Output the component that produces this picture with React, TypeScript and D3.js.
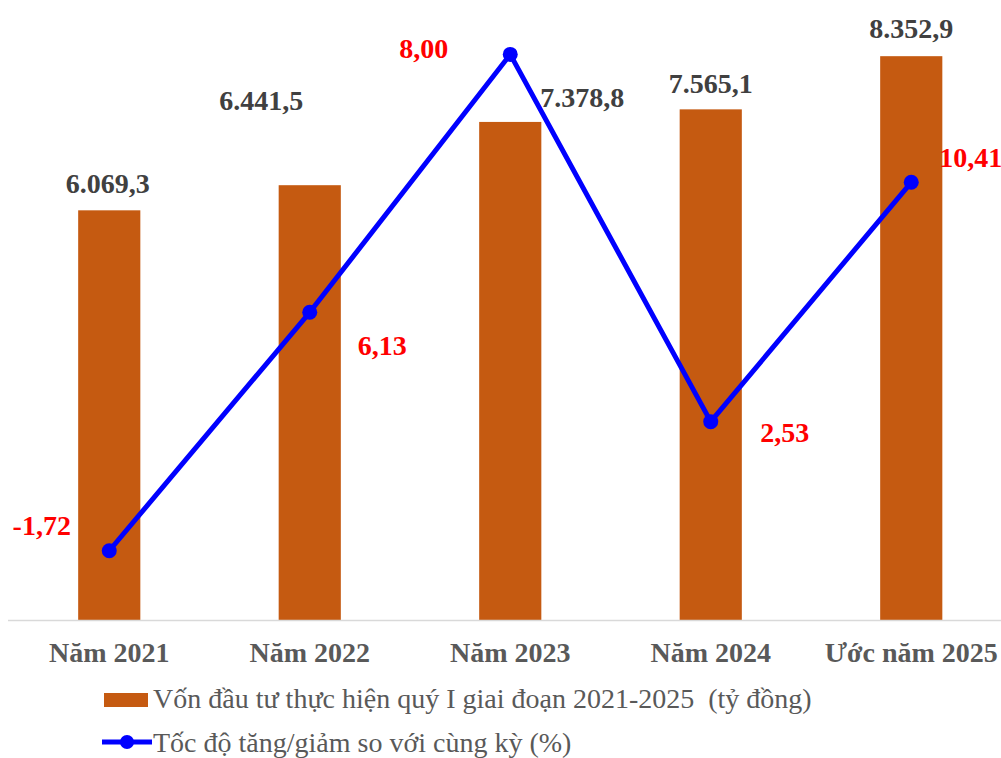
import React from "react";
import * as d3 from "d3";

const categories = ["Năm 2021", "Năm 2022", "Năm 2023", "Năm 2024", "Ước năm 2025"];
const capital = [6069.3, 6441.5, 7378.8, 7565.1, 8352.9];
const capitalLabels = ["6.069,3", "6.441,5", "7.378,8", "7.565,1", "8.352,9"];
// plotted growth values (as drawn in the reference; 2023 point is drawn higher than its label)
const growth = [-1.72, 6.13, 14.62, 2.53, 10.41];
const growthLabels = ["-1,72", "6,13", "8,00", "2,53", "10,41"];
const legendBar = "Vốn đầu tư thực hiện quý I giai đoạn 2021-2025  (tỷ đồng)";
const legendLine = "Tốc độ tăng/giảm so với cùng kỳ (%)";

// label placement offsets (layout only)
const barLabelOffsets: [number, number][] = [[-1.5, -17], [-48.5, -75], [72, -15], [0, -16], [0, -18]];
const lineLabelOffsets: [number, number][] = [[-67.5, -15.7], [72.5, 43], [-86.5, 3.6], [74, 20], [59.5, -15]];

const W = 1001;
const H = 758;
const baseY = 620;
const topY = 12.5;

export default function App() {
  const x = d3.scaleBand<string>().domain(categories).range([9, 1011.5]).paddingInner(0.69).paddingOuter(0.345);
  const yL = d3.scaleLinear().domain([0, 9000]).range([baseY, topY]);
  const yR = d3.scaleLinear().domain([-4, 16]).range([baseY, topY]);
  const cx = (c: string) => (x(c) as number) + x.bandwidth() / 2;
  const line = d3.line<number>().x((_, i) => cx(categories[i])).y((v) => yR(v));
  const font = "'Liberation Serif', 'Times New Roman', serif";

  return (
    <svg width={W} height={H} style={{ position: "absolute", left: 0, top: 0, background: "#fff" }} fontFamily={font}>
      {categories.map((c, i) => (
        <rect key={c} x={x(c)} y={yL(capital[i])} width={x.bandwidth()} height={baseY - yL(capital[i])} fill="#c55a11" />
      ))}
      <line x1={8} x2={1001} y1={baseY + 0.5} y2={baseY + 0.5} stroke="#d9d9d9" strokeWidth={1.5} />
      <path d={line(growth) || ""} fill="none" stroke="#0000ff" strokeWidth={5} strokeLinejoin="round" />
      {growth.map((v, i) => (
        <circle key={i} cx={cx(categories[i])} cy={yR(v)} r={7.5} fill="#0000ff" />
      ))}
      {capitalLabels.map((t, i) => (
        <text key={t} x={cx(categories[i]) + barLabelOffsets[i][0]} y={yL(capital[i]) + barLabelOffsets[i][1]}
          textAnchor="middle" fontWeight="bold" fontSize={28} fill="#404040">{t}</text>
      ))}
      {growthLabels.map((t, i) => (
        <text key={t} x={cx(categories[i]) + lineLabelOffsets[i][0]} y={yR(growth[i]) + lineLabelOffsets[i][1]}
          textAnchor="middle" fontWeight="bold" fontSize={28} fill="#ff0000">{t}</text>
      ))}
      {categories.map((c) => (
        <text key={c} x={cx(c)} y={662} textAnchor="middle" fontWeight="bold" fontSize={28} fill="#595959">{c}</text>
      ))}
      <rect x={104} y={693} width={44} height={14} fill="#c55a11" />
      <text x={153} y={708} fontSize={28} fill="#595959" style={{ whiteSpace: "pre" }}>{legendBar}</text>
      <line x1={102} x2={152} y1={742} y2={742} stroke="#0000ff" strokeWidth={5} />
      <circle cx={127} cy={742} r={7} fill="#0000ff" />
      <text x={153} y={752} fontSize={28} fill="#595959">{legendLine}</text>
    </svg>
  );
}
